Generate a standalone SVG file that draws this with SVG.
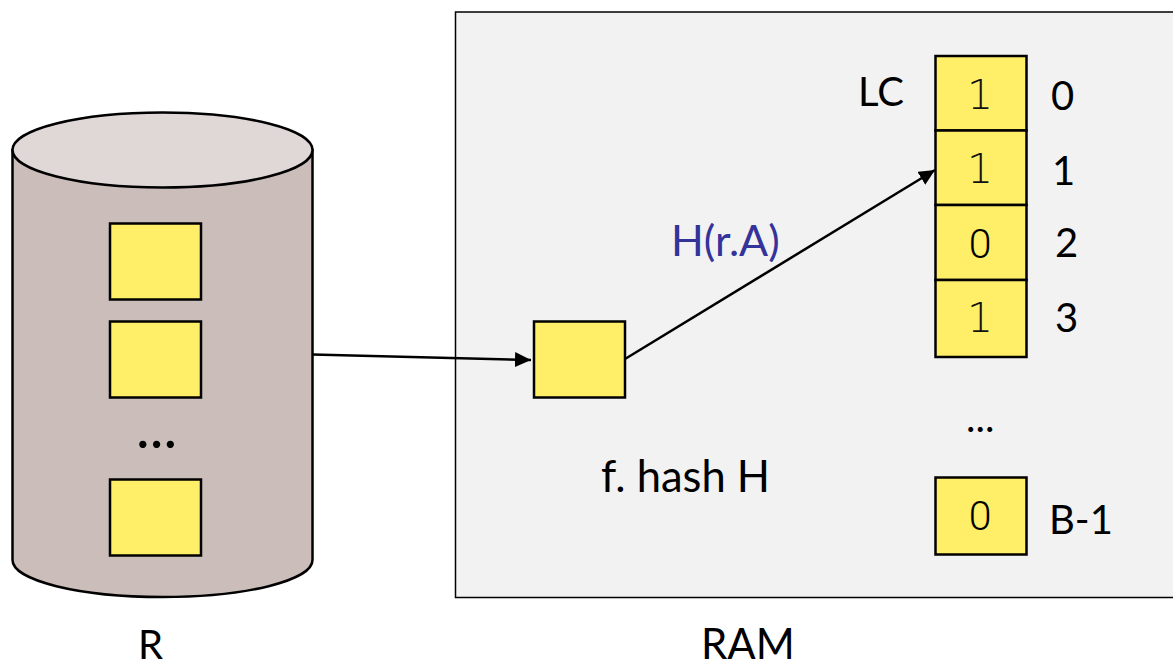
<svg xmlns="http://www.w3.org/2000/svg" width="1173" height="660" viewBox="0 0 1173 660">
<style>
.b{fill:#ffee67;stroke:#000;stroke-width:2.500}
.t{font-family:Lato,"Liberation Sans",sans-serif;font-size:40px;fill:#000}
.m{font-family:"DejaVu Sans","Liberation Sans",sans-serif;font-weight:200;font-size:41px;fill:#111;text-anchor:middle}
.z{font-family:Roboto,"Liberation Sans",sans-serif;font-weight:300;font-size:41px;fill:#000;text-anchor:middle}
.c{fill:none;stroke:#000;stroke-width:2.500}
</style>
<defs><marker id="a" markerUnits="userSpaceOnUse" markerWidth="17" markerHeight="16" refX="16" refY="7.500" orient="auto"><path d="M0 0L16 7.500L0 15Z" fill="#000"/></marker></defs>
<rect width="1173" height="660" fill="#fff"/>
<g id="ram"><rect x="455.500" y="12" width="720" height="585.500" fill="#f2f2f2" stroke="#000" stroke-width="1.500"/><text class="t" x="701" y="659" style="font-size:42px">RAM</text></g>
<g id="disk">
<path d="M12.500 150V560C12.500 580.500 79.500 597 162.500 597S312.500 580.500 312.500 560V150Z" fill="#cbbdba" stroke="#000" stroke-width="2.500"/>
<ellipse cx="162.500" cy="150" rx="150" ry="37.500" fill="#e0d8d6" stroke="#000" stroke-width="2.500"/>
<text class="t" x="138" y="659">R</text>
<text class="t" x="136" y="448" style="font-size:58px">...</text>
</g>
<g id="page1"><rect class="b" x="110" y="223.500" width="91" height="76"/></g>
<g id="page2"><rect class="b" x="110" y="321.500" width="91" height="76"/></g>
<g id="page3"><rect class="b" x="110" y="479.500" width="91" height="76"/></g>
<g id="current"><rect class="b" x="534" y="321.500" width="91" height="76"/></g>
<g id="hash"><text class="t" x="601" y="492" style="font-size:43.500px">f. hash H</text></g>
<g id="hlabel"><text class="t" x="671" y="256" style="fill:#333399;font-size:43px">H(r.A)</text></g>
<g id="lc"><text class="t" x="858" y="106">LC</text></g>
<g id="cell0"><rect class="b" x="935.500" y="56" width="91" height="74.500"/><text class="m" x="980" y="109">1</text><text class="t" x="1051" y="110">0</text></g>
<g id="cell1"><rect class="b" x="935.500" y="130.500" width="91" height="74.500"/><text class="m" x="980" y="183">1</text><text class="t" x="1052" y="185">1</text></g>
<g id="cell2"><rect class="b" x="935.500" y="205" width="91" height="75"/><text class="z" x="980" y="258">0</text><text class="t" x="1055" y="257">2</text></g>
<g id="cell3"><rect class="b" x="935.500" y="280" width="91" height="77"/><text class="m" x="980" y="332">1</text><text class="t" x="1055" y="332">3</text></g>
<g id="dots"><text class="t" x="966" y="432" style="font-size:40px">...</text></g>
<g id="cellB"><rect class="b" x="935.500" y="477.500" width="91" height="77"/><text class="z" x="980" y="530">0</text><text class="t" x="1049" y="534">B-1</text></g>
<g id="connectors">
<path class="c" d="M312.500 354.500L531 360" marker-end="url(#a)"/>
<path class="c" d="M625 359L935 170" marker-end="url(#a)"/>
</g>
</svg>
